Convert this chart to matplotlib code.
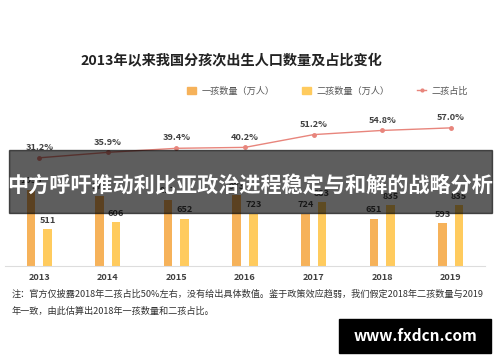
import numpy as np
import matplotlib.pyplot as plt
from matplotlib.patches import Rectangle
from matplotlib.lines import Line2D

plt.rcParams['font.family'] = ['Noto Sans CJK SC', 'DejaVu Sans']

years = ['2013', '2014', '2015', '2016', '2017', '2018', '2019']
first_child = [1055, 970, 917, 973, 724, 651, 593]
second_child = [511, 606, 652, 723, 883, 835, 835]
second_share = [31.2, 35.9, 39.4, 40.2, 51.2, 54.8, 57.0]

c_first = '#F6B25A'
c_second = '#FFCB5E'
c_line = '#E8857C'
c_text = '#404040'

fig = plt.figure(figsize=(5, 3.62), dpi=100)
ax = fig.add_axes([0.01, 1 - 266 / 362, 0.96, 146 / 362])
x = np.arange(len(years))
w = 0.125
off = 0.12

ax.bar(x - off, first_child, w, color=c_first, zorder=2)
ax.bar(x + off, second_child, w, color=c_second, zorder=2)
for i in range(len(years)):
    ax.text(x[i] - off, first_child[i] + 60, str(first_child[i]), ha='center', va='bottom',
            fontsize=6.6, color=c_text, fontweight='bold')
    ax.text(x[i] + off, second_child[i] + 60, str(second_child[i]), ha='center', va='bottom',
            fontsize=6.6, color=c_text, fontweight='bold')

ax.set_xlim(-0.5, 6.5)
ax.set_ylim(0, 2014)
ax.set_xticks(x)
ax.set_xticklabels(years, fontsize=6.6, color=c_text, fontweight='bold')
ax.tick_params(axis='x', length=0, pad=5)
ax.set_yticks([])
for s in ['top', 'left', 'right']:
    ax.spines[s].set_visible(False)
ax.spines['bottom'].set_color('#DDDDDD')
ax.spines['bottom'].set_linewidth(0.8)

ax2 = ax.twinx()
ax2.plot(x, second_share, color=c_line, lw=1.0, marker='o', ms=2.5, zorder=3)
for i in range(len(years)):
    ax2.text(x[i], second_share[i] + 5, f'{second_share[i]:.1f}%', ha='center', va='bottom',
             fontsize=6.6, color=c_text, fontweight='bold')
ax2.set_ylim(-62.1, 63.8)
ax2.set_yticks([])
for s in ['top', 'left', 'right', 'bottom']:
    ax2.spines[s].set_visible(False)

fig.text(0.462, 1 - 60 / 362, '2013年以来我国分孩次出生人口数量及占比变化', ha='center', va='center',
         fontsize=10.2, fontweight='bold', color='#222222')

handles = [Rectangle((0, 0), 1, 1, color=c_first),
           Rectangle((0, 0), 1, 1, color=c_second),
           Line2D([0], [0], color=c_line, lw=1.0, marker='o', ms=2)]
fig.legend(handles, ['一孩数量（万人）', '二孩数量（万人）', '二孩占比'], ncol=3, frameon=False,
           loc='center', bbox_to_anchor=(0.655, 1 - 91 / 362), fontsize=6.6,
           labelcolor='#555555', handlelength=1.0, handleheight=0.7, columnspacing=3.0,
           handletextpad=0.6)

fig.text(0.024, 1 - 294 / 362,
         '注：官方仅披露2018年二孩占比50%左右，没有给出具体数值。鉴于政策效应趋弱，我们假定2018年二孩数量与2019',
         ha='left', va='center', fontsize=6.6, color='#333333')
fig.text(0.024, 1 - 311 / 362, '年一致，由此估算出2018年一孩数量和二孩占比。',
         ha='left', va='center', fontsize=6.6, color='#333333')

# overlay banner and watermark
fig.patches.append(Rectangle((9 / 500, 1 - 213 / 362), 483 / 500, 63 / 362,
                             transform=fig.transFigure, color='black', alpha=0.63, zorder=10))
fig.text(0.5, 1 - 185 / 362, '中方呼吁推动利比亚政治进程稳定与和解的战略分析', ha='center', va='center',
         fontsize=15.2, fontweight='bold', color='white', zorder=11)
fig.patches.append(Rectangle((339 / 500, 1 - 353 / 362), 152 / 500, 34 / 362,
                             transform=fig.transFigure, color='black', zorder=10))
fig.text(415 / 500, 1 - 336 / 362, 'www.fxdcn.com', ha='center', va='center',
         fontsize=11, fontweight='bold', color='white', zorder=11)

fig.savefig('out.png', dpi=100)
